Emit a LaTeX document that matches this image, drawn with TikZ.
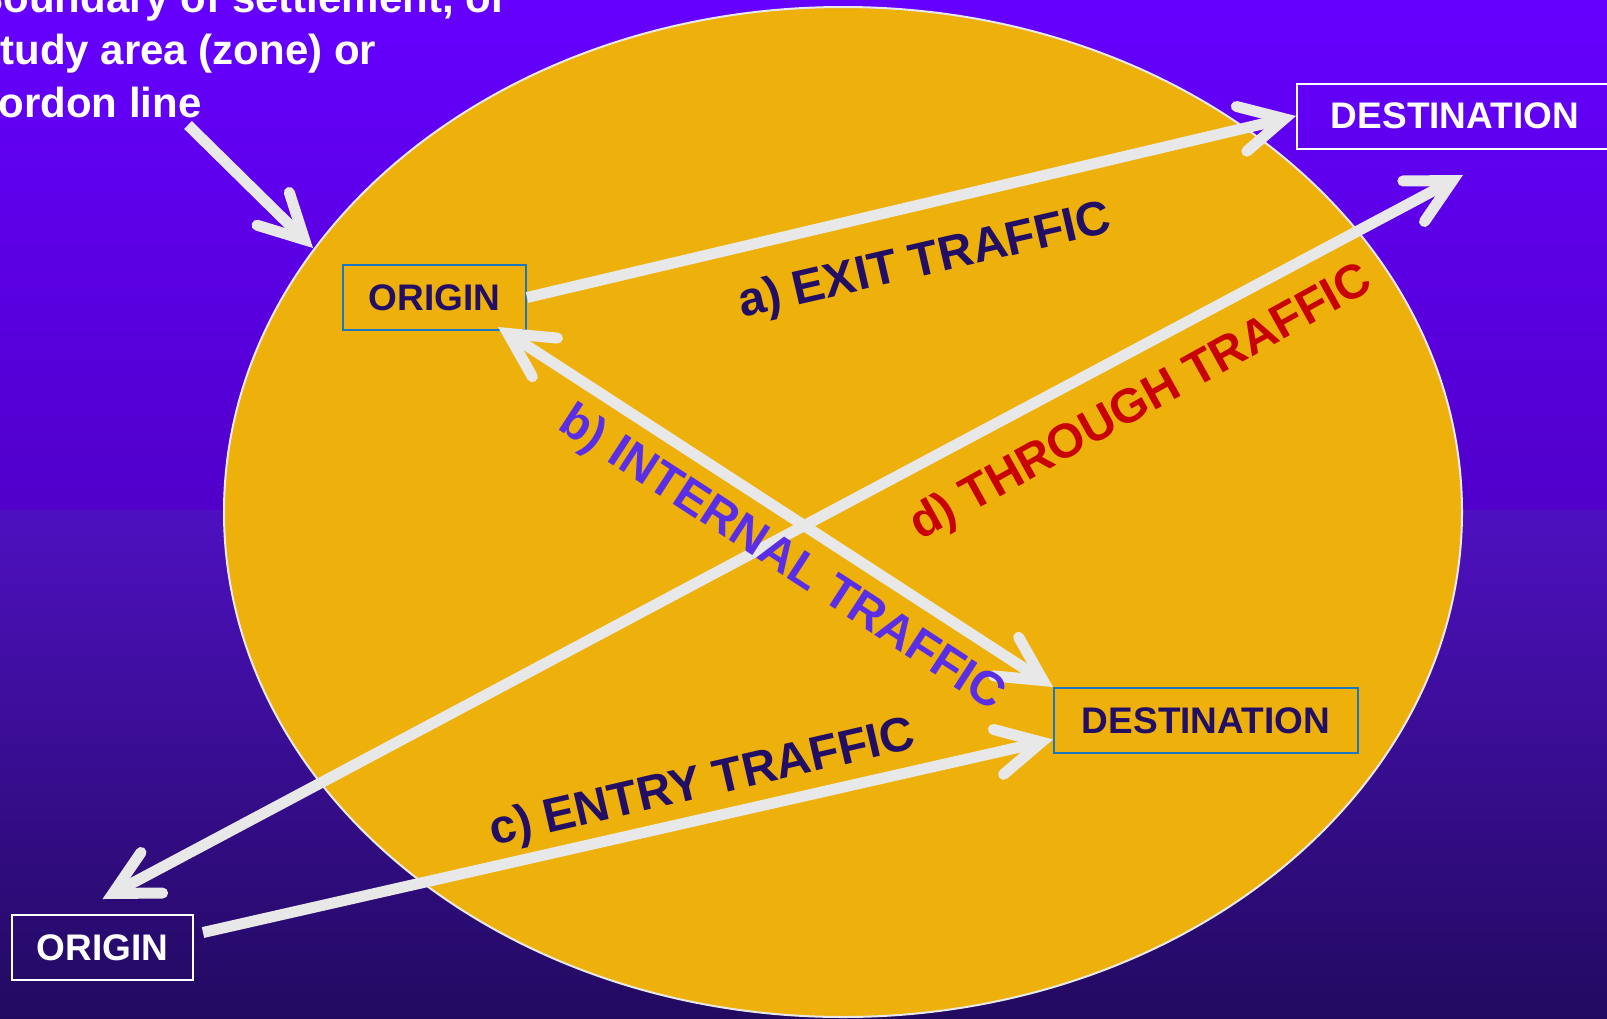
\documentclass[tikz,border=0pt]{standalone}
\usepackage{fontspec}
\setmainfont{Liberation Sans}
\usetikzlibrary{arrows.meta,calc}

\definecolor{bgtop}{RGB}{102,0,255}
\definecolor{bgmid}{RGB}{80,0,202}
\definecolor{bgmidlow}{RGB}{78,16,192}
\definecolor{bgbot}{RGB}{34,10,96}
\definecolor{zonefill}{RGB}{238,177,12}
\definecolor{rim}{RGB}{232,232,232}
\definecolor{navy}{RGB}{34,14,100}
\definecolor{boxblue}{RGB}{26,120,194}
\definecolor{internalc}{RGB}{90,45,230}
\definecolor{throughc}{RGB}{200,0,0}
\definecolor{flow}{RGB}{232,232,232}

\newcommand\BoxFont{\fontsize{37}{44}\selectfont\bfseries}
\newcommand\LabelFont{\fontsize{48}{57}\selectfont\bfseries}
\newcommand\NoteFont{\fontsize{42}{52}\selectfont\bfseries}

\tikzset{
  flowline/.style={draw=flow, line width=11pt},
  zonebox/.style={draw=boxblue, line width=2pt, text=navy, minimum height=65pt,
                  inner sep=0pt, font=\BoxFont},
  outbox/.style={draw=white, line width=2pt, text=white, minimum height=65pt,
                 inner sep=0pt, font=\BoxFont},
  lbl/.style={anchor=base west, inner sep=0pt, font=\LabelFont},
  note/.style={anchor=base west, inner sep=0pt, text=white, font=\NoteFont},
}

\begin{document}
\begin{tikzpicture}[x=1pt, y=-1pt,
  >={Straight Barb[length=44pt, width=46pt, line cap=round]}]
  \useasboundingbox (0,0) rectangle (1607,1018);
  \clip (0,0) rectangle (1607,1018);

  % background bands
  \shade[top color=bgtop, bottom color=bgmid] (0,0) rectangle (1607,510);
  \shade[top color=bgmidlow, bottom color=bgbot] (0,510) rectangle (1607,1018);

  % study area
  \draw[rim, fill=zonefill, line width=2pt] (843,512) ellipse [x radius=619, y radius=505];

  % explanatory note
  \node[note] (n1) at (-27,12) {Boundary of settlement, or};
  \node[note] (n2) at (-23,64) {study area (zone) or};
  \node[note] (n3) at (-25,117) {cordon line};

  % origins and destinations
  \node[zonebox, minimum width=183pt] (orgA) at (434.5,297.5) {ORIGIN};
  \node[zonebox, minimum width=304pt] (dstB) at (1206,720.5) {DESTINATION};
  \node[outbox, minimum width=316pt] (dstA) at (1455,116) {DESTINATION};
  \node[outbox, minimum width=181pt] (orgB) at (102.5,947.5) {ORIGIN};

  \coordinate (noteTail) at (188,125);
  \coordinate (rimPoint) at (313,248);
  \coordinate (thruEnd) at (1463,175);

  % flows
  \draw[flowline, ->] (noteTail) -- (rimPoint);
  \draw[flowline, ->] (orgA.east) -- (dstA.west);
  \draw[flowline, <->] ($(orgA.south east)+(-29,-4)$) -- (dstB.north west);
  \draw[flowline, ->] ($(orgB.east)+(9,-15)$) -- ($(dstB.west)+(0,19)$);
  \draw[flowline, <->] ($(orgB.north)+(0,-15)$) -- (thruEnd);

  % flow labels
  \node[lbl, text=navy, rotate=13] (labA) at (742,318) {a) EXIT TRAFFIC};
  \node[lbl, text=internalc, rotate=-33] (labB) at (556,428) {b) INTERNAL TRAFFIC};
  \node[lbl, text=navy, rotate=13] (labC) at (493,846) {c) ENTRY TRAFFIC};
  \node[lbl, text=throughc, rotate=29] (labD) at (920,541) {d) THROUGH TRAFFIC};
\end{tikzpicture}
\end{document}
